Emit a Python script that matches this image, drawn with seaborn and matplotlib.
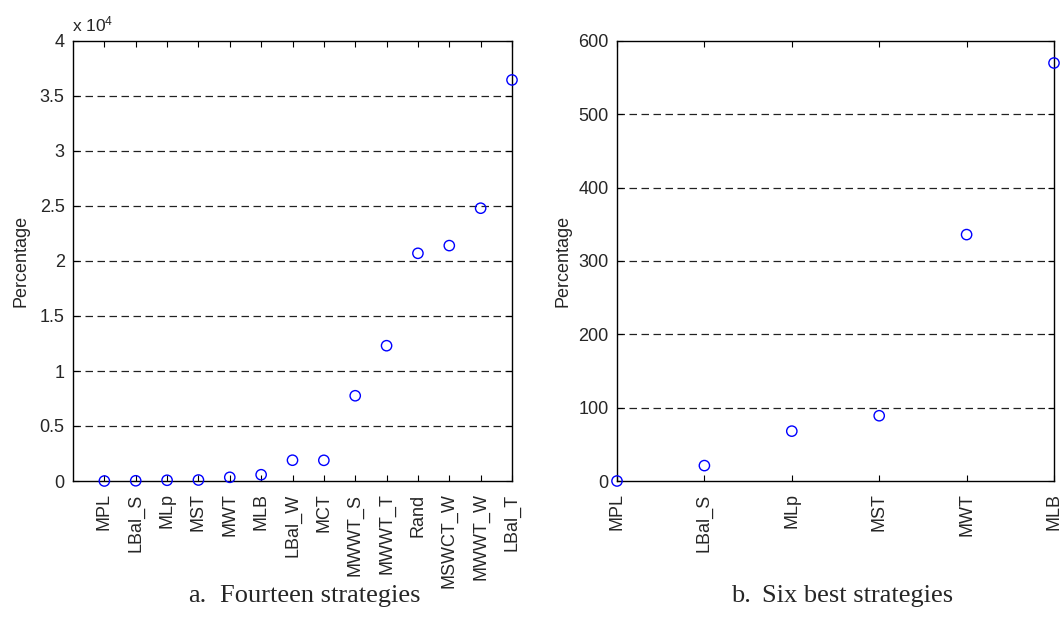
import matplotlib
matplotlib.use("Agg")
import matplotlib.pyplot as plt
from matplotlib.ticker import FuncFormatter
import pandas as pd
import seaborn as sns

# Fourteen strategies, sorted by their percentage value
all_strategies = ["MPL", "LBal_S", "MLp", "MST", "MWT", "MLB", "LBal_W", "MCT",
                  "MWWT_S", "MWWT_T", "Rand", "MSWCT_W", "MWWT_W", "LBal_T"]
all_values = [0, 20, 67, 89, 336, 570, 1890, 1880,
              7750, 12300, 20700, 21400, 24800, 36460]

# Six best strategies
best_strategies = ["MPL", "LBal_S", "MLp", "MST", "MWT", "MLB"]
best_values = [0, 21, 68, 89, 336, 570]

left_yticks = [0, 5000, 10000, 15000, 20000, 25000, 30000, 35000, 40000]
right_yticks = [0, 100, 200, 300, 400, 500, 600]

sns.set_style("ticks")
plt.rcParams["font.family"] = ["Liberation Sans", "DejaVu Sans"]
plt.rcParams["mathtext.fontset"] = "custom"
plt.rcParams["mathtext.rm"] = "Liberation Sans"
plt.rcParams["mathtext.it"] = "Liberation Sans"

W, H = 1062, 626
fig = plt.figure(figsize=(W / 100, H / 100), dpi=100)
ax_a = fig.add_axes([73 / W, (H - 481) / H, 439 / W, 440 / H])
ax_b = fig.add_axes([617 / W, (H - 481) / H, 437 / W, 440 / H])

df_a = pd.DataFrame({"strategy": all_strategies, "value": all_values})
df_b = pd.DataFrame({"strategy": best_strategies, "value": best_values})


def draw(ax, df, yticks, xlim):
    ax.set_axisbelow(True)
    for y in yticks[1:-1]:
        ax.axhline(y, color="#222222", lw=0.9, ls=(0, (6, 3.6)), zorder=0)
    sns.scatterplot(data=df, x="strategy", y="value", ax=ax, marker="o", s=55,
                    facecolor="none", edgecolor="#0000ff", linewidth=1.0,
                    clip_on=False, zorder=3, legend=False)
    ax.set_xlim(*xlim)
    ax.set_ylim(yticks[0], yticks[-1])
    ax.set_yticks(yticks)
    ax.set_xticks(range(len(df)))
    ax.set_xticklabels(df["strategy"], rotation=90, ha="center", va="top")
    ax.set_xlabel("")
    ax.set_ylabel("Percentage", fontsize=13)
    ax.tick_params(axis="both", which="both", direction="in", length=4,
                   width=0.8, top=True, right=True, labelsize=13, color="black")
    ax.tick_params(axis="x", pad=9)
    ax.tick_params(axis="y", pad=6)
    for sp in ax.spines.values():
        sp.set_visible(True)
        sp.set_color("black")
        sp.set_linewidth(1.0)


draw(ax_a, df_a, left_yticks, (-1, len(all_strategies) - 1))
draw(ax_b, df_b, right_yticks, (0, len(best_strategies) - 1))

ax_a.yaxis.set_major_formatter(FuncFormatter(lambda v, p: f"{v / 1e4:g}"))
ax_a.yaxis.labelpad = 7
ax_b.yaxis.labelpad = 5

fig.text(72 / W, (H - 31) / H, r"$\mathrm{x\ 10}^{4}$", fontsize=12.5,
         ha="left", va="baseline")

serif = dict(fontsize=19, family="Liberation Serif", va="baseline")
fig.text(206 / W, (H - 602) / H, "a.", ha="right", **serif)
fig.text(420 / W, (H - 602) / H, "Fourteen strategies", ha="right", **serif)
fig.text(751 / W, (H - 602) / H, "b.", ha="right", **serif)
fig.text(953 / W, (H - 602) / H, "Six best strategies", ha="right", **serif)

fig.savefig("out.png", dpi=100, facecolor="white")
